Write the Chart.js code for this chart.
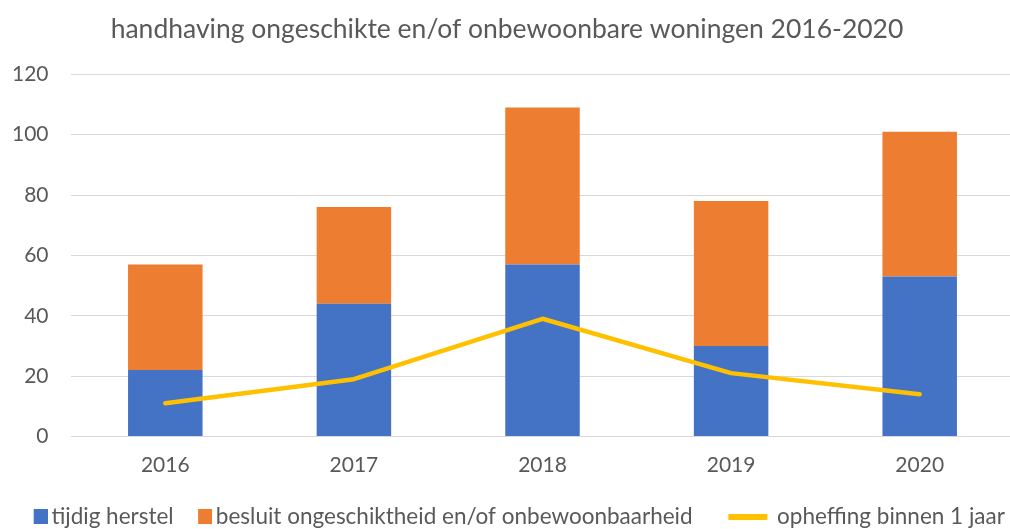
<!DOCTYPE html>
<html>
<head>
<meta charset="utf-8">
<script src="https://cdn.jsdelivr.net/npm/chart.js@4/dist/chart.umd.min.js"></script>
<style>
  html, body { margin: 0; padding: 0; background: #fff; overflow: hidden; }
  #wrap { width: 1014px; height: 538px; position: relative; }
</style>
</head>
<body>
<div id="wrap"><canvas id="chart"></canvas></div>
<script>
// data
const years = ['2016', '2017', '2018', '2019', '2020'];
const tijdigHerstel = [22, 44, 57, 30, 53];
const besluitOngeschikt = [35, 32, 52, 48, 48];
const opheffing = [11, 19, 39, 21, 14];
const yTicks = [0, 20, 40, 60, 80, 100, 120];

const grey = '#595959';
const font = 'Lato, "Open Sans", sans-serif';
const blue = '#4472C4', orange = '#ED7D31', yellow = '#FFC000';

// little canvases used as legend symbols (square close to text, wider line)
function symbol(w, h, color, x0, x1) {
  const c = document.createElement('canvas');
  c.width = w; c.height = h;
  const g = c.getContext('2d');
  if (color) { g.fillStyle = color; g.fillRect(x0, 0, x1 - x0, h); }
  return c;
}
const symBlue = symbol(46, 15, blue, 32, 46);
const symOrange = symbol(46, 15, orange, 32, 46);
const symLine = symbol(46, 6, yellow, 1, 40);
const symNone = symbol(1, 1, null);

new Chart(document.getElementById('chart'), {
  type: 'bar',
  data: {
    labels: years,
    datasets: [
      {
        type: 'line',
        label: 'opheffing binnen 1 jaar',
        data: opheffing,
        borderColor: yellow,
        backgroundColor: yellow,
        borderWidth: 4.5,
        pointRadius: 0,
        tension: 0,
        borderCapStyle: 'round',
        borderJoinStyle: 'round',
        order: 0
      },
      {
        label: 'tijdig herstel',
        data: tijdigHerstel,
        backgroundColor: blue,
        order: 1
      },
      {
        label: 'besluit ongeschiktheid en/of onbewoonbaarheid',
        data: besluitOngeschikt,
        backgroundColor: orange,
        order: 1
      }
    ]
  },
  options: {
    responsive: true,
    maintainAspectRatio: false,
    animation: false,
    layout: { padding: 0 },
    datasets: {
      bar: { categoryPercentage: 1, barPercentage: 0.395 }
    },
    scales: {
      x: {
        stacked: true,
        afterFit: s => { s.height = 69; },
        grid: { display: false, drawTicks: false },
        border: { display: false },
        ticks: { color: grey, font: { family: font, size: 21 }, padding: 16 }
      },
      y: {
        stacked: true,
        min: 0,
        max: 120,
        afterBuildTicks: s => { s.ticks = yTicks.map(v => ({ value: v })); },
        afterFit: s => { s.width = 71; },
        grid: { color: '#d9d9d9', lineWidth: 1, drawTicks: false },
        border: { display: false },
        ticks: { color: grey, font: { family: font, size: 21 }, padding: 22.5 }
      }
    },
    plugins: {
      title: {
        display: true,
        text: 'handhaving ongeschikte en/of onbewoonbare woningen 2016-2020',
        color: grey,
        font: { family: font, size: 26.5, weight: 'normal' },
        padding: { top: 14, bottom: 28.5 }
      },
      legend: {
        position: 'bottom',
        labels: {
          color: grey,
          font: { family: font, size: 22.5 },
          usePointStyle: true,
          pointStyleWidth: 31,
          padding: 0,
          generateLabels: chart => {
            const items = Chart.defaults.plugins.legend.labels.generateLabels(chart);
            items[0].pointStyle = symLine;
            items[1].pointStyle = symBlue;
            items[2].pointStyle = symOrange;
            // empty item keeps the line entry further right, like the reference
            const gap = { text: '', pointStyle: symNone, hidden: false, lineWidth: 0 };
            return [items[1], items[2], gap, items[0]];
          }
        }
      },
      tooltip: { enabled: false }
    }
  }
});
</script>
</body>
</html>
